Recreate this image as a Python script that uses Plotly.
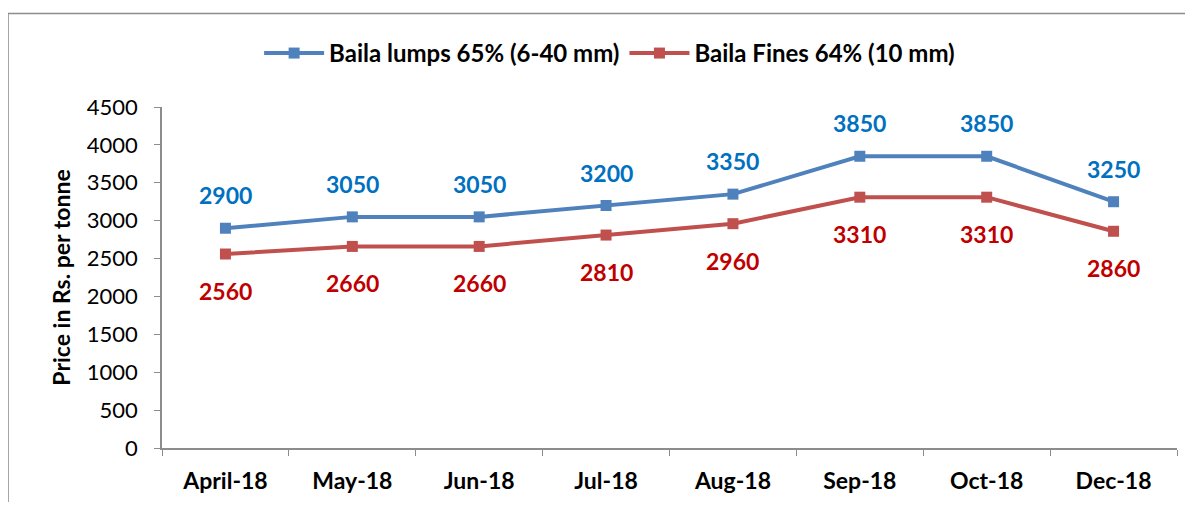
import plotly.graph_objects as go

months = ["April-18", "May-18", "Jun-18", "Jul-18", "Aug-18", "Sep-18", "Oct-18", "Dec-18"]
lumps = [2900, 3050, 3050, 3200, 3350, 3850, 3850, 3250]
fines = [2560, 2660, 2660, 2810, 2960, 3310, 3310, 2860]
y_ticks = [0, 500, 1000, 1500, 2000, 2500, 3000, 3500, 4000, 4500]

FONT = "Lato"
blue_line, blue_text = "#4F81BD", "#0070C0"
red_line, red_text = "#C0504D", "#C00000"

fig = go.Figure()
fig.add_trace(go.Scatter(x=months, y=lumps, name="<b>Baila lumps 65% (6-40 mm)</b>",
                         mode="lines+markers",
                         line=dict(color=blue_line, width=4),
                         marker=dict(symbol="square", size=11, color=blue_line)))
fig.add_trace(go.Scatter(x=months, y=fines, name="<b>Baila Fines 64% (10 mm)</b>",
                         mode="lines+markers",
                         line=dict(color=red_line, width=4),
                         marker=dict(symbol="square", size=11, color=red_line)))

for m, v in zip(months, lumps):
    fig.add_annotation(x=m, y=v, text=f"<b>{v}</b>", showarrow=False, yshift=33,
                       font=dict(family=FONT, size=23, color=blue_text))
for m, v in zip(months, fines):
    fig.add_annotation(x=m, y=v, text=f"<b>{v}</b>", showarrow=False, yshift=-37,
                       font=dict(family=FONT, size=23, color=red_text))

fig.add_shape(type="rect", xref="paper", yref="paper", x0=-0.1517, x1=1.05,
              y0=-0.2, y1=1.274, line=dict(color="#8C8C8C", width=1.5))

fig.update_layout(
    width=1177, height=494,
    margin=dict(l=154, r=8, t=99, b=52),
    paper_bgcolor="white", plot_bgcolor="white",
    font=dict(family=FONT, size=22, color="black"),
    showlegend=True,
    legend=dict(orientation="h", x=0.441, xanchor="center", y=1.157, yanchor="middle",
                bgcolor="rgba(0,0,0,0)",
                font=dict(family=FONT, size=24, color="black"),
                itemwidth=60, tracegroupgap=0),
    xaxis=dict(type="category", showline=True, linecolor="#8C8C8C", linewidth=1.5,
               ticks="outside", tickson="boundaries", ticklen=6, tickcolor="#8C8C8C",
               showgrid=False, tickfont=dict(family=FONT, size=23, color="black"),
               ticktext=[f"<b>{m}</b>" for m in months], tickvals=months,
               ticklabelstandoff=12, range=[-0.5, 7.5]),
    yaxis=dict(range=[0, 4500], tickvals=y_ticks, showline=True, linecolor="#8C8C8C",
               linewidth=1.5, ticks="outside", ticklen=6, tickcolor="#8C8C8C",
               showgrid=False, zeroline=False, ticklabelstandoff=12,
               tickfont=dict(family=FONT, size=22, color="black"),
               title=dict(text="<b>Price in Rs. per tonne</b>", standoff=10,
                          font=dict(family=FONT, size=23, color="black"))),
)

fig.write_html("out.html")
